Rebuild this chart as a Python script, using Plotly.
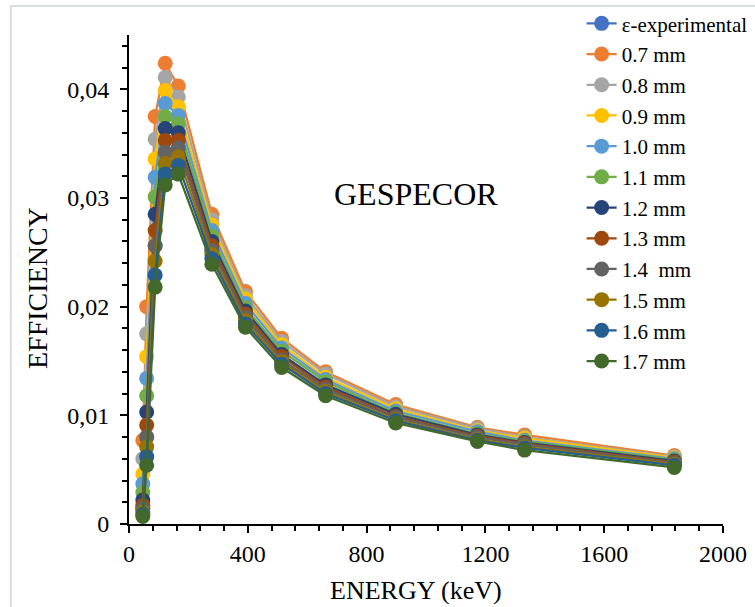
import plotly.graph_objects as go

energy = [46.5, 59.5, 88, 122, 166, 279, 392, 514, 662, 898, 1173, 1332, 1836]

series_names = ["ε-experimental", "0.7 mm", "0.8 mm", "0.9 mm", "1.0 mm", "1.1 mm",
                "1.2 mm", "1.3 mm", "1.4  mm", "1.5 mm", "1.6 mm", "1.7 mm"]

eff_exp = [0.0014, 0.0080, 0.0256, 0.0342, 0.0346, 0.0252, 0.0190, 0.0151, 0.0124, 0.0098, 0.0080, 0.0073, 0.0056]
eff_07 = [0.0077, 0.0200, 0.0375, 0.0424, 0.0403, 0.0285, 0.0214, 0.0171, 0.0140, 0.0110, 0.0089, 0.0082, 0.0063]
eff_08 = [0.0060, 0.0175, 0.0354, 0.0411, 0.0393, 0.0280, 0.0210, 0.0168, 0.0138, 0.0108, 0.0088, 0.0080, 0.0062]
eff_09 = [0.0046, 0.0154, 0.0336, 0.0399, 0.0384, 0.0275, 0.0207, 0.0165, 0.0135, 0.0106, 0.0086, 0.0079, 0.0061]
eff_10 = [0.0037, 0.0134, 0.0319, 0.0387, 0.0376, 0.0270, 0.0203, 0.0162, 0.0133, 0.0104, 0.0085, 0.0077, 0.0060]
eff_11 = [0.0029, 0.0118, 0.0301, 0.0375, 0.0368, 0.0265, 0.0199, 0.0159, 0.0131, 0.0102, 0.0083, 0.0076, 0.0059]
eff_12 = [0.0022, 0.0103, 0.0285, 0.0364, 0.0360, 0.0260, 0.0196, 0.0156, 0.0128, 0.0101, 0.0082, 0.0075, 0.0058]
eff_13 = [0.0017, 0.0091, 0.0270, 0.0353, 0.0353, 0.0256, 0.0193, 0.0154, 0.0126, 0.0099, 0.0081, 0.0074, 0.0057]
eff_14 = [0.0014, 0.0080, 0.0256, 0.0342, 0.0346, 0.0252, 0.0190, 0.0151, 0.0124, 0.0098, 0.0080, 0.0073, 0.0056]
eff_15 = [0.0011, 0.0071, 0.0242, 0.0332, 0.0338, 0.0248, 0.0187, 0.0149, 0.0122, 0.0096, 0.0078, 0.0071, 0.0055]
eff_16 = [0.0009, 0.0062, 0.0229, 0.0322, 0.0330, 0.0244, 0.0184, 0.0147, 0.0120, 0.0095, 0.0077, 0.0070, 0.0054]
eff_17 = [0.0007, 0.0054, 0.0218, 0.0312, 0.0322, 0.0239, 0.0181, 0.0144, 0.0118, 0.0093, 0.0076, 0.0068, 0.0052]

series_values = [eff_exp, eff_07, eff_08, eff_09, eff_10, eff_11, eff_12, eff_13,
                 eff_14, eff_15, eff_16, eff_17]

colors = ["#4472C4", "#ED7D31", "#A5A5A5", "#FFC000", "#5B9BD5", "#70AD47",
          "#264478", "#9E480E", "#636363", "#997300", "#255E91", "#43682B"]

x_ticks = [0, 400, 800, 1200, 1600, 2000]
y_ticks = [0, 0.01, 0.02, 0.03, 0.04]
y_tick_labels = ["0", "0,01", "0,02", "0,03", "0,04"]

FONT = "Liberation Serif, Times New Roman, serif"

fig = go.Figure()
for i, (name, vals, col) in enumerate(zip(series_names, series_values, colors)):
    fig.add_trace(go.Scatter(
        x=energy, y=vals, name=name, mode="lines+markers",
        line=dict(color=col, width=2.25),
        marker=dict(color=col, size=15, line=dict(width=0)),
        legendgroup=f"g{i}",
    ))

fig.add_annotation(x=965, y=0.0304, xref="x", yref="y", text="GESPECOR",
                   showarrow=False, font=dict(family=FONT, size=32, color="black"))

# axis titles as annotations for exact placement
fig.add_annotation(x=(416 - 129) / 594, y=-(590 - 524) / 489, xref="paper", yref="paper",
                   text="ENERGY (keV)", showarrow=False, xanchor="center", yanchor="middle",
                   font=dict(family=FONT, size=26, color="black"))
fig.add_annotation(x=-(129 - 37) / 594, y=(524 - 288) / 489, xref="paper", yref="paper",
                   text="EFFICIENCY", showarrow=False, textangle=-90,
                   xanchor="center", yanchor="middle",
                   font=dict(family=FONT, size=28, color="black"))

# chart area border (left and top)
fig.add_shape(type="rect", xref="paper", yref="paper", x0=-0.199, x1=1.3, y0=-0.3, y1=1.0593,
              line=dict(color="#D9DEE6", width=2), fillcolor="rgba(0,0,0,0)", layer="below")

fig.update_layout(
    width=755, height=607,
    margin=dict(l=129, r=32, t=35, b=83, autoexpand=False),
    paper_bgcolor="white", plot_bgcolor="white",
    font=dict(family=FONT, color="black"),
    showlegend=True,
    legend=dict(
        x=0.762, y=1.065, xanchor="left", yanchor="top",
        font=dict(family=FONT, size=21, color="black"),
        bgcolor="rgba(255,255,255,0)",
        traceorder="grouped", tracegroupgap=0.4,
        itemwidth=30, maxheight=590,
    ),
    xaxis=dict(
        range=[0, 2000], tickvals=x_ticks, ticktext=[str(v) for v in x_ticks],
        showline=True, linecolor="black", linewidth=2,
        ticks="outside", ticklen=7, tickwidth=2, tickcolor="black",
        minor=dict(dtick=80, ticks="outside", ticklen=5, tickwidth=1.5, tickcolor="black"),
        showgrid=False, zeroline=False,
        tickfont=dict(family=FONT, size=24, color="black"),
    ),
    yaxis=dict(
        range=[0, 0.045], tickvals=y_ticks, ticktext=y_tick_labels,
        showline=True, linecolor="black", linewidth=2,
        ticks="outside", ticklen=7, tickwidth=2, tickcolor="black",
        minor=dict(dtick=0.002, ticks="outside", ticklen=5, tickwidth=1.5, tickcolor="black"),
        showgrid=False, zeroline=False,
        tickfont=dict(family=FONT, size=24, color="black"),
        ticklabelstandoff=6,
    ),
)

fig.write_html("out.html")
